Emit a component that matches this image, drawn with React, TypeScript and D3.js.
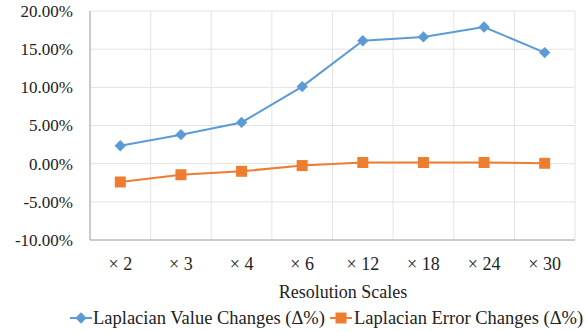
import React from "react";
import * as d3 from "d3";

const categories = ["2", "3", "4", "6", "12", "18", "24", "30"];
const catPrefix = "×";
const valueChanges = [2.35, 3.8, 5.4, 10.1, 16.1, 16.6, 17.9, 14.55];
const errorChanges = [-2.4, -1.45, -1.0, -0.25, 0.15, 0.15, 0.15, 0.05];
const yTicks = [-10, -5, 0, 5, 10, 15, 20];
const seriesNames = ["Laplacian Value Changes (Δ%)", "Laplacian Error Changes (Δ%)"];
const xTitle = "Resolution Scales";

const W = 587, H = 332;
const L = 90, R = 575, T = 11, B = 240;
const BLUE = "#5B9BD5", ORANGE = "#ED7D31";
const FONT = '"Liberation Serif", "Times New Roman", serif';

const Diamond = ({ cx, cy }: { cx: number; cy: number }) => (
  <rect x={-4} y={-4} width={8} height={8} fill={BLUE} transform={`translate(${cx},${cy}) rotate(45)`} />
);
const Square = ({ cx, cy }: { cx: number; cy: number }) => (
  <rect x={cx - 5.5} y={cy - 5.5} width={11} height={11} fill={ORANGE} />
);

export default function App() {
  const x = d3.scaleBand().domain(categories).range([L, R]).padding(0);
  const y = d3.scaleLinear().domain([-10, 20]).range([B, T]);
  const cx = (c: string) => (x(c) as number) + x.bandwidth() / 2;
  const line = d3.line<number>().x((_, i) => cx(categories[i])).y((d) => y(d));
  const bounds = [...categories.map((c) => x(c) as number), R];
  const ts = (fs: number) => ({ fontFamily: FONT, fontSize: fs, fill: "#222" } as React.CSSProperties);
  return (
    <svg width={W} height={H} style={{ position: "absolute", left: 0, top: 0 }}>
      <rect width={W} height={H} fill="#fff" />
      {yTicks.map((t) => (
        <line key={"h" + t} x1={L} x2={R} y1={y(t)} y2={y(t)} stroke="#e3e3e3" strokeWidth={1} />
      ))}
      {bounds.map((b, i) => (
        <line key={"v" + i} x1={b} x2={b} y1={T} y2={B} stroke="#e3e3e3" strokeWidth={1} />
      ))}
      <line x1={L} x2={L} y1={T} y2={B} stroke="#a6a6a6" />
      <line x1={L} x2={R} y1={B} y2={B} stroke="#a6a6a6" />
      {yTicks.map((t) => (
        <text key={"yt" + t} x={73} y={y(t)} dy="0.35em" textAnchor="end" style={ts(17)}>
          {t.toFixed(2) + "%"}
        </text>
      ))}
      {categories.map((c) => (
        <text key={"xt" + c} x={cx(c)} y={264} dy="0.35em" textAnchor="middle" style={ts(18)}>
          {catPrefix + " " + c}
        </text>
      ))}
      <text x={343} y={292} dy="0.35em" textAnchor="middle" style={ts(18)}>
        {xTitle}
      </text>
      <path d={line(valueChanges) as string} fill="none" stroke={BLUE} strokeWidth={2} />
      {valueChanges.map((v, i) => (
        <Diamond key={"d" + i} cx={cx(categories[i])} cy={y(v)} />
      ))}
      <path d={line(errorChanges) as string} fill="none" stroke={ORANGE} strokeWidth={2} />
      {errorChanges.map((v, i) => (
        <Square key={"s" + i} cx={cx(categories[i])} cy={y(v)} />
      ))}
      <g>
        <line x1={70} x2={92} y1={318} y2={318} stroke={BLUE} strokeWidth={2} />
        <Diamond cx={81} cy={318} />
        <text x={93} y={318} dy="0.35em" style={ts(18.5)}>{seriesNames[0]}</text>
        <line x1={330} x2={352} y1={318} y2={318} stroke={ORANGE} strokeWidth={2} />
        <Square cx={341} cy={318} />
        <text x={354} y={318} dy="0.35em" style={ts(18.5)}>{seriesNames[1]}</text>
      </g>
    </svg>
  );
}
